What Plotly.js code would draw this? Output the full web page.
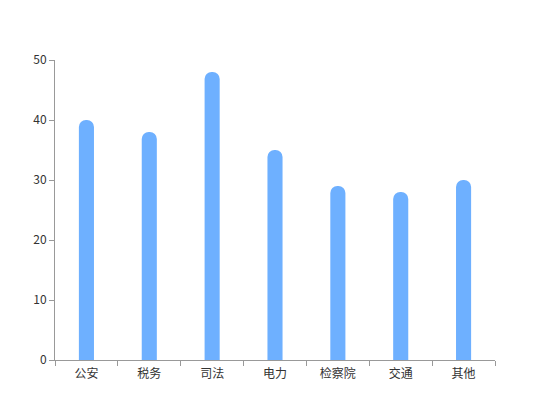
<!DOCTYPE html>
<html>
<head>
<meta charset="utf-8">
<script src="https://cdn.plot.ly/plotly-3.0.1.min.js"></script>
<style>
  html, body { margin: 0; padding: 0; background: #fff; }
  #chart { width: 550px; height: 420px; }
</style>
</head>
<body>
<div id="chart"></div>
<script>
// 各部门数量
const categories = ["公安", "税务", "司法", "电力", "检察院", "交通", "其他"];
const values = [40, 38, 48, 35, 29, 28, 30];
const yTicks = [0, 10, 20, 30, 40, 50];

const barColor = "#6eb0ff";
const axisColor = "#999999";

const trace = {
  type: "bar",
  x: categories,
  y: values,
  width: 0.24,
  marker: { color: barColor, line: { width: 0 } },
  hoverinfo: "x+y"
};

const layout = {
  width: 550,
  height: 420,
  margin: { t: 60, r: 55, b: 60, l: 55 },
  paper_bgcolor: "#ffffff",
  plot_bgcolor: "#ffffff",
  showlegend: false,
  barcornerradius: 7,
  font: { family: "'Noto Sans CJK SC', 'Noto Sans', sans-serif", size: 12, color: "#333333" },
  xaxis: {
    type: "category",
    showline: true,
    linecolor: axisColor,
    linewidth: 1,
    ticks: "outside",
    ticklen: 5,
    tickcolor: axisColor,
    tickson: "boundaries",
    ticklabelstandoff: 3,
    showgrid: false,
    zeroline: false,
    tickfont: { size: 12, color: "#333333" }
  },
  yaxis: {
    range: [0, 50],
    tickvals: yTicks,
    showline: true,
    linecolor: axisColor,
    linewidth: 1,
    ticks: "outside",
    ticklen: 5,
    tickcolor: axisColor,
    showgrid: false,
    zeroline: false,
    tickfont: { size: 12, color: "#333333" }
  }
};

Plotly.newPlot("chart", [trace], layout, { displayModeBar: false, staticPlot: true });
</script>
</body>
</html>
